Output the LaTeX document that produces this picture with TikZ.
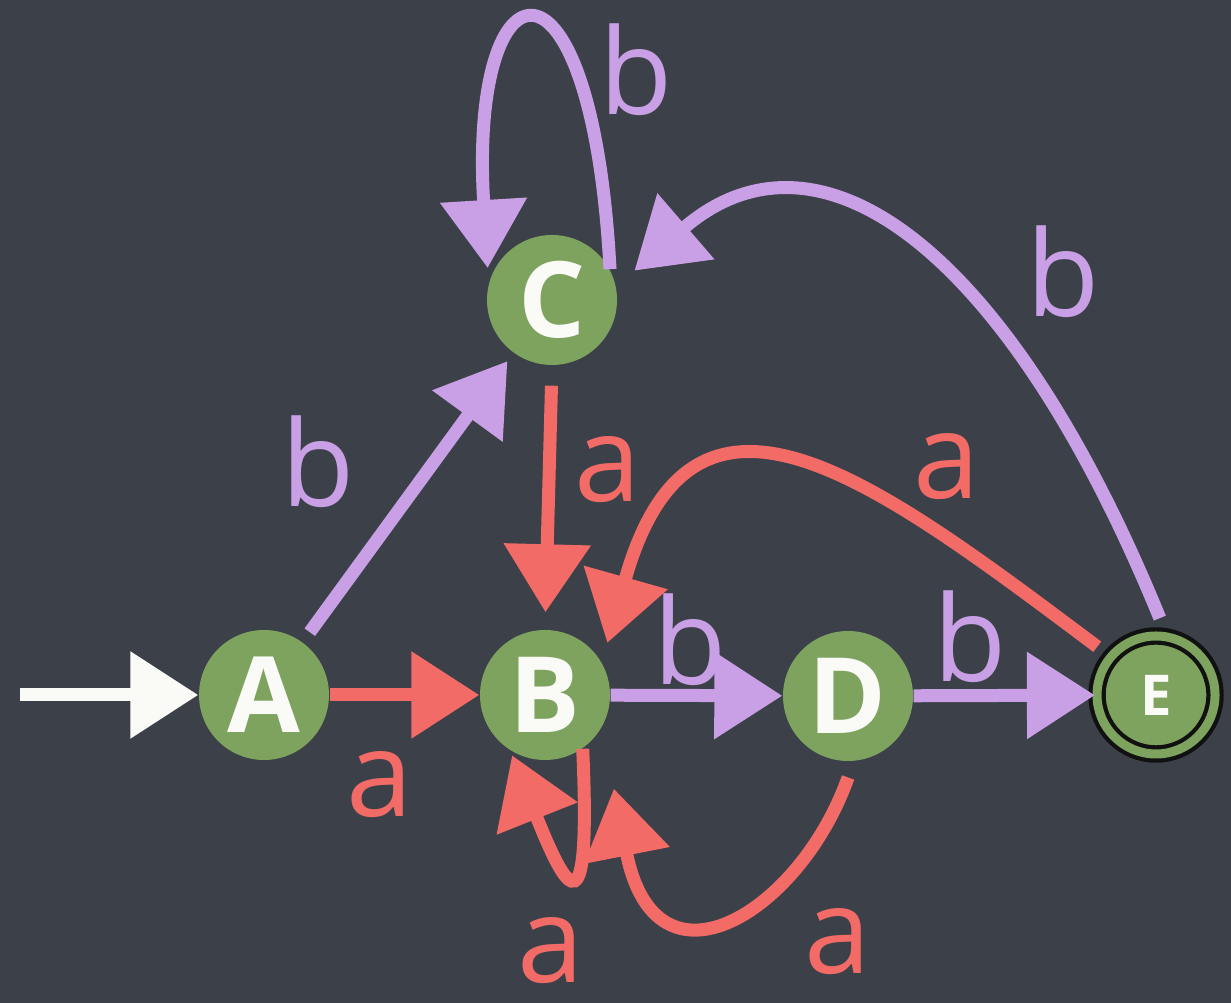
\documentclass[tikz,border=0pt]{standalone}
\usepackage{fontspec}
\setmainfont{Open Sans}
\setsansfont{Open Sans}
\usepackage{tikz}
\usetikzlibrary{positioning,arrows.meta,calc}
\definecolor{board}  {HTML}{3C4049}
\definecolor{moss}   {HTML}{7DA35E}
\definecolor{lilac}  {HTML}{C9A0E6}
\definecolor{coral}  {HTML}{F26B66}
\definecolor{chalk}  {HTML}{FAFAF7}
\definecolor{ink}    {HTML}{111111}
\tikzset{
  every node/.style={font=\sffamily},
  % --- nodes
  st/.style   = {circle, fill=moss, minimum size=1.30cm, inner sep=0pt, text=chalk,
                 font=\sffamily\bfseries\fontsize{30}{30}\selectfont},
  acc/.style  = {st, minimum size=1.18cm, draw=ink, line width=1.2pt, double=moss,
                 double distance=0.09cm, font=\sffamily\bfseries\fontsize{16}{16}\selectfont},
  lbl/.style  = {inner sep=0pt, font=\sffamily\fontsize{34}{34}\selectfont},
  la/.style   = {lbl, text=coral},
  lb/.style   = {lbl, text=lilac},
  % --- edges
  e/.style    = {-{Triangle[length=0.68cm,width=0.84cm]}, line width=0.13cm},
  ea/.style   = {e, draw=coral},
  eb/.style   = {e, draw=lilac},
  ein/.style  = {e, draw=chalk},
}
\begin{document}
\begin{tikzpicture}
  \fill[board] (0,0) rectangle (12.31,10.03);
  \useasboundingbox (0,0) rectangle (12.31,10.03);

  \node[st]  (A) at (2.64,3.08)  {A};
  \node[st]  (B) at (5.45,3.08)  {B};
  \node[st]  (C) at (5.52,7.03)  {C};
  \node[st]  (D) at (8.48,3.07)  {D};
  \node[acc] (E) at (11.56,3.08) {E};
  \coordinate (start) at (0.2,3.08);

  % labels
  \node[la] (lab)  at (3.80,2.18) {a};
  \node[lb] (lac)  at (3.18,5.41) {b};
  \node[la] (lcb)  at (6.08,5.33) {a};
  \node[lb] (lcc)  at (6.36,9.33) {b};
  \node[lb] (lec)  at (10.63,7.31) {b};
  \node[la] (leb)  at (9.47,5.36) {a};
  \node[lb] (lbd)  at (6.90,3.63) {b};
  \node[lb] (lde)  at (9.70,3.66) {b};
  \node[la] (lbb)  at (5.51,0.52) {a};
  \node[la] (ldb)  at (8.38,0.61) {a};

  \draw[ein] (start) -- (A);
  \draw[ea] (A) -- (B);
  \draw[eb, shorten <=0.12cm, shorten >=0.1cm] (A) -- (C);
  \draw[ea, shorten <=0.2cm, shorten >=0.17cm] (C.south) -- (B.north);
  \draw[eb] (B) -- (D);
  \draw[eb] (D) -- (E);
  \draw[eb, shorten >=0.15cm] (C.28) .. controls +(-0.18,3.38) and +(-0.2,3.3) .. (C.165);
  \draw[eb, shorten <=0.18cm, shorten >=0.24cm]
    (E.80) .. controls +(-1.57,3.84) and +(2.04,1.76) .. (C.12);
  \draw[ea, shorten <=0.15cm, shorten >=0.2cm]
    (E.140) .. controls +(-2.40,1.80) and +(0.90,3.20) .. (B.30);
  \draw[ea, shorten >=0.05cm] (B.-55) .. controls +(0.08,-1.80) and +(0.59,-1.48) .. (B.-122);
  \draw[ea, shorten <=0.17cm, shorten >=0.62cm]
    (D.-85) .. controls +(-0.53,-1.50) and +(0.54,-2.75) .. (B.-30);
\end{tikzpicture}
\end{document}
